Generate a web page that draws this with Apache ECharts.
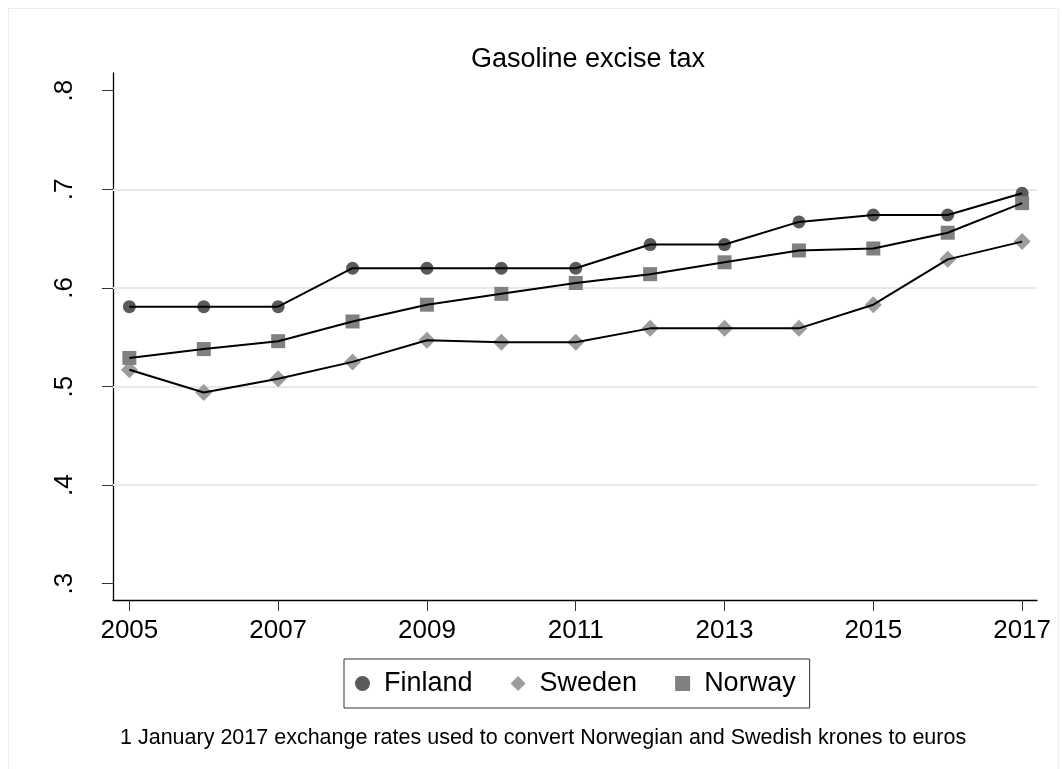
<!DOCTYPE html>
<html>
<head>
<meta charset="utf-8">
<title>Gasoline excise tax</title>
<script src="https://cdn.jsdelivr.net/npm/echarts@6/dist/echarts.min.js"></script>
<style>
  html, body { margin: 0; padding: 0; background: #fff; }
  #chart { width: 1062px; height: 769px; }
</style>
</head>
<body>
<div id="chart"></div>
<script>
// Years on the horizontal axis and the labelled years
const years = [2005, 2006, 2007, 2008, 2009, 2010, 2011, 2012, 2013, 2014, 2015, 2016, 2017];
const xTickYears = [2005, 2007, 2009, 2011, 2013, 2015, 2017];

// Excise tax, euros per litre
const finland = [0.581, 0.581, 0.581, 0.620, 0.620, 0.620, 0.620, 0.644, 0.644, 0.667, 0.674, 0.674, 0.696];
const sweden  = [0.517, 0.494, 0.508, 0.525, 0.547, 0.545, 0.545, 0.559, 0.559, 0.559, 0.583, 0.629, 0.647];
const norway  = [0.529, 0.538, 0.546, 0.566, 0.583, 0.594, 0.605, 0.614, 0.626, 0.638, 0.640, 0.656, 0.686];

// Vertical axis ticks and the horizontal reference lines
const yTicks = [0.3, 0.4, 0.5, 0.6, 0.7, 0.8];
const gridValues = [0.4, 0.5, 0.6, 0.7];

const countries = [
  { name: 'Finland', values: finland, symbol: 'circle',  size: 13, color: '#5a5a5a' },
  { name: 'Sweden',  values: sweden,  symbol: 'diamond', size: 17, color: '#9c9c9c' },
  { name: 'Norway',  values: norway,  symbol: 'rect',    size: 14, color: '#808080' }
];

const FONT = '"Liberation Sans", Arial, Helvetica, sans-serif';

const pairs = vals => years.map((y, i) => [y, vals[i]]);

const series = [];
// reference lines behind everything
series.push({
  type: 'line',
  name: '_grid',
  data: [],
  silent: true,
  markLine: {
    silent: true,
    symbol: ['none', 'none'],
    label: { show: false },
    lineStyle: { color: '#e8e8e8', width: 2, type: 'solid' },
    z: 1,
    data: gridValues.map(v => ({ yAxis: v }))
  }
});
// markers
countries.forEach(c => {
  series.push({
    type: 'scatter',
    name: c.name,
    data: pairs(c.values),
    symbol: c.symbol,
    symbolSize: c.size,
    itemStyle: { color: c.color, opacity: 1 },
    z: 2,
    silent: true
  });
});
// connecting lines drawn over the markers
countries.forEach(c => {
  series.push({
    type: 'line',
    name: c.name + ' line',
    data: pairs(c.values),
    showSymbol: false,
    symbol: 'none',
    lineStyle: { color: '#000', width: 2 },
    z: 3,
    silent: true
  });
});

const chart = echarts.init(document.getElementById('chart'), null, { renderer: 'canvas' });
chart.setOption({
  animation: false,
  backgroundColor: '#fff',
  textStyle: { fontFamily: FONT },
  graphic: [{
    type: 'rect',
    shape: { x: 8.5, y: 8.5, width: 1050, height: 770 },
    style: { fill: 'none', stroke: '#ececec', lineWidth: 1 },
    silent: true
  }],
  title: [
    {
      text: 'Gasoline excise tax',
      left: 583, top: 41,
      textAlign: 'center',
      textStyle: { fontFamily: FONT, fontSize: 27, fontWeight: 'normal', color: '#000' }
    },
    {
      text: '1 January 2017 exchange rates used to convert Norwegian and Swedish krones to euros',
      left: 115, top: 722,
      textStyle: { fontFamily: FONT, fontSize: 21.5, fontWeight: 'normal', color: '#000' }
    }
  ],
  legend: {
    data: countries.map(c => ({ name: c.name, icon: c.symbol })),
    left: 344, top: 659,
    orient: 'horizontal',
    padding: [11, 14, 11, 11],
    itemGap: 38,
    itemWidth: 15, itemHeight: 15,
    borderColor: '#333', borderWidth: 1,
    selectedMode: false,
    textStyle: { fontFamily: FONT, fontSize: 27, color: '#000', padding: [0, 0, 0, 9] }
  },
  grid: { left: 113, right: 25, top: 73, bottom: 169, containLabel: false },
  xAxis: {
    type: 'value',
    min: 2004.78, max: 2017.2,
    axisLine: { show: true, lineStyle: { color: '#000', width: 1.3 } },
    axisTick: { show: true, customValues: xTickYears, length: 11, lineStyle: { color: '#333', width: 1 } },
    axisLabel: { customValues: xTickYears, margin: 18, fontFamily: FONT, fontSize: 26, color: '#000',
                 formatter: v => String(Math.round(v)) },
    splitLine: { show: false }
  },
  yAxis: {
    type: 'value',
    min: 0.2835, max: 0.818,
    axisLine: { show: true, lineStyle: { color: '#000', width: 1.3 } },
    axisTick: { show: true, customValues: yTicks, length: 11, lineStyle: { color: '#333', width: 1 } },
    axisLabel: { customValues: yTicks, rotate: 90, margin: 35, fontFamily: FONT, fontSize: 26, color: '#000',
                 formatter: v => (Math.round(v * 10) / 10).toString().replace(/^0/, '') },
    splitLine: { show: false }
  },
  series: series
});
</script>
</body>
</html>
